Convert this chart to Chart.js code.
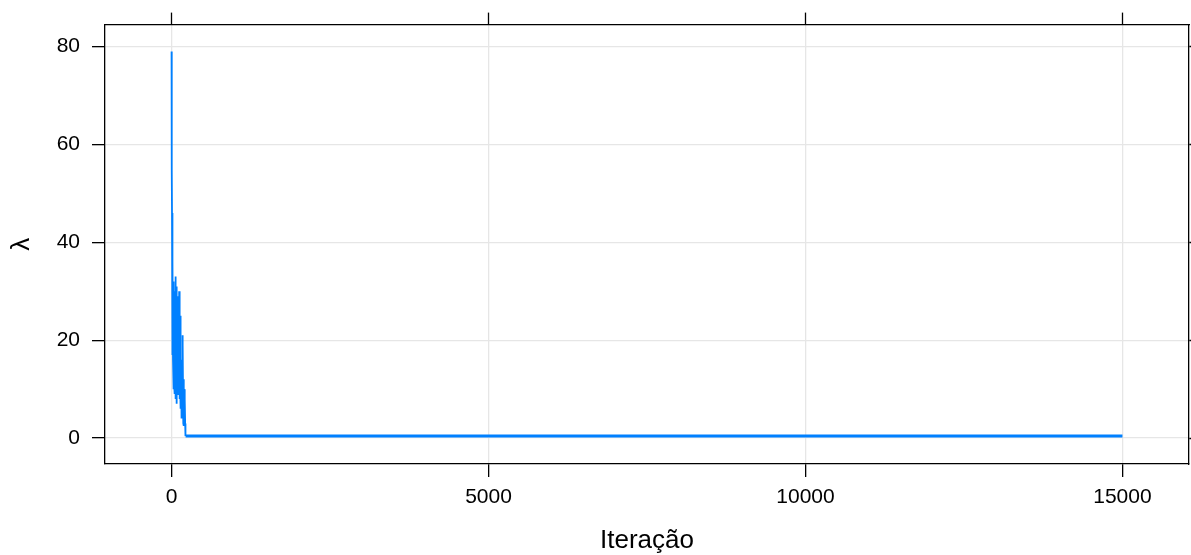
<!DOCTYPE html>
<html>
<head>
<meta charset="utf-8">
<script src="https://cdn.jsdelivr.net/npm/chart.js@4.4.0/dist/chart.umd.min.js"></script>
<style>
  body { margin: 0; background: #fff; }
</style>
</head>
<body>
<canvas id="trace" width="1191" height="555"></canvas>
<script>
// burn-in part of the chain (first ~220 iterations)
const burnIter = [0, 1, 2, 3, 5, 7, 9, 11, 13, 15, 17, 20, 23, 26, 29, 32, 35, 38, 41, 44, 47, 50,
    53, 56, 60, 64, 68, 72, 76, 80, 85, 90, 95, 100, 105, 110, 115, 120, 125, 130, 135, 140,
    145, 150, 155, 160, 165, 170, 175, 180, 185, 190, 195, 200, 205, 210, 215, 218, 221];
const burnLambda = [79, 63, 67, 62, 55, 46, 40, 37, 17, 30, 18, 36, 16, 31, 10, 28, 19, 32, 11, 26, 15, 30,
    9, 24, 17, 33, 8, 27, 13, 31, 7, 22, 14, 29, 9, 20, 12, 30, 8, 18, 11, 25,
    6, 16, 4, 14, 9, 21, 5, 19, 3, 12, 2.5, 10, 4, 8, 2.6, 3, 0.4];

// stationary part of the chain
const tailIter = [221, 500, 1000, 1500, 2000, 2500, 3000, 3500, 4000, 4500, 5000, 5500, 6000, 6500,
    7000, 7500, 8000, 8500, 9000, 9500, 10000, 10500, 11000, 11500, 12000, 12500, 13000, 13500,
    14000, 14500, 15000];
const tailLambda = [0.4, 0.4, 0.41, 0.4, 0.4, 0.4, 0.41, 0.4, 0.4, 0.4, 0.41, 0.4, 0.4, 0.4,
    0.41, 0.4, 0.4, 0.4, 0.41, 0.4, 0.4, 0.41, 0.4, 0.4, 0.4, 0.41, 0.4, 0.4, 0.4, 0.4, 0.4];

const xTicks = [0, 5000, 10000, 15000];
const yTicks = [0, 20, 40, 60, 80];

const lineBlue = '#0080ff';
const gridGrey = '#e6e6e6';
const fontFamily = '"Liberation Sans", Arial, sans-serif';

function toPoints(xs, ys) {
    return xs.map((x, i) => ({ x: x, y: ys[i] }));
}

const setTicks = list => scale => { scale.ticks = list.map(v => ({ value: v })); };

new Chart(document.getElementById('trace'), {
    type: 'line',
    data: {
        datasets: [
            {
                data: toPoints(burnIter, burnLambda),
                borderColor: lineBlue,
                borderWidth: 1.8,
                pointRadius: 0,
                tension: 0
            },
            {
                data: toPoints(tailIter, tailLambda),
                borderColor: lineBlue,
                borderWidth: 3,
                pointRadius: 0,
                tension: 0
            }
        ]
    },
    options: {
        responsive: false,
        animation: false,
        devicePixelRatio: 1,
        layout: { padding: 0 },
        plugins: {
            legend: { display: false },
            tooltip: { enabled: false }
        },
        scales: {
            x: {
                type: 'linear',
                position: 'bottom',
                min: -1050,
                max: 16050,
                afterBuildTicks: setTicks(xTicks),
                afterFit: s => { s.height = 91; },
                ticks: {
                    callback: v => String(v),
                    font: { family: fontFamily, size: 21 },
                    color: '#000',
                    padding: 8,
                    maxRotation: 0,
                    autoSkip: false
                },
                grid: { color: gridGrey, tickColor: '#000', tickLength: 13, lineWidth: 1.3, tickWidth: 1.3 },
                border: { display: true, color: '#000', width: 1.3 },
                title: {
                    display: true,
                    text: 'Iteração',
                    color: '#000',
                    font: { family: fontFamily, size: 26, lineHeight: 1 },
                    padding: { top: 0, bottom: 1 }
                }
            },
            x2: {
                type: 'linear',
                axis: 'x',
                position: 'top',
                min: -1050,
                max: 16050,
                afterBuildTicks: setTicks(xTicks),
                afterFit: s => { s.height = 24; },
                ticks: { display: false },
                grid: { drawOnChartArea: false, tickColor: '#000', tickLength: 12, tickWidth: 1.3 },
                border: { display: true, color: '#000', width: 1.3 }
            },
            y: {
                type: 'linear',
                position: 'left',
                min: -5.3,
                max: 84.5,
                afterBuildTicks: setTicks(yTicks),
                afterFit: s => { s.width = 105; },
                ticks: {
                    callback: v => String(v),
                    font: { family: fontFamily, size: 21 },
                    color: '#000',
                    padding: 12
                },
                grid: { color: gridGrey, tickColor: '#000', tickLength: 13, lineWidth: 1.3, tickWidth: 1.3 },
                border: { display: true, color: '#000', width: 1.3 },
                title: {
                    display: true,
                    text: 'λ',
                    color: '#000',
                    font: { family: fontFamily, size: 26, lineHeight: 1 },
                    padding: { top: 9, bottom: 0 }
                }
            },
            y2: {
                type: 'linear',
                axis: 'y',
                position: 'right',
                min: -5.3,
                max: 84.5,
                afterBuildTicks: setTicks(yTicks),
                afterFit: s => { s.width = 2; },
                ticks: { display: false },
                grid: { drawOnChartArea: false, tickColor: '#000', tickLength: 12, tickWidth: 1.3 },
                border: { display: true, color: '#000', width: 1.3 }
            }
        }
    }
});
</script>
</body>
</html>
